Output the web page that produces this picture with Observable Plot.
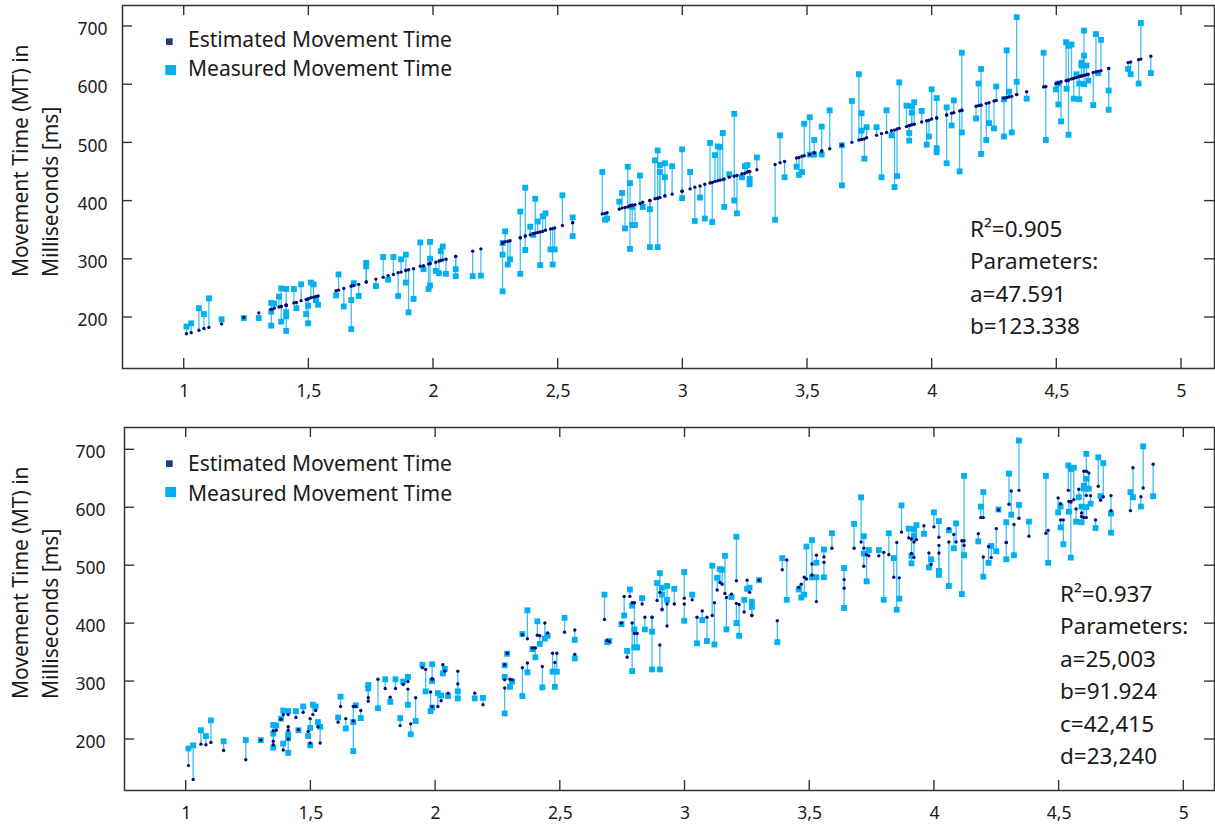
<!DOCTYPE html>
<html><head><meta charset="utf-8">
<script src="https://cdn.jsdelivr.net/npm/d3@7"></script>
<script src="https://cdn.jsdelivr.net/npm/@observablehq/plot@0.6"></script>
<style>
html,body{margin:0;padding:0;background:#fff;}
#c svg{display:block;}
</style></head><body><div id="c"></div>
<script>
// Index of difficulty (x) for each trial
const ids=[
1.009,1.028,1.059,1.079,1.099,1.150,1.239,1.299,1.349,1.349,
1.349,1.361,1.380,1.389,1.389,1.409,1.409,1.409,1.409,1.440,
1.450,1.469,1.489,1.497,1.497,1.508,1.519,1.528,1.537,1.609,
1.619,1.640,1.670,1.670,1.680,1.700,1.730,1.730,1.769,1.798,
1.818,1.839,1.858,1.870,1.889,1.889,1.900,1.920,1.947,1.960,
1.980,1.986,1.986,1.986,2.009,2.022,2.029,2.037,2.050,2.089,
2.089,2.157,2.190,2.277,2.277,2.277,2.287,2.298,2.307,2.348,
2.348,2.368,2.368,2.388,2.400,2.408,2.418,2.428,2.438,2.449,
2.469,2.478,2.486,2.517,2.558,2.558,2.677,2.688,2.696,2.745,
2.756,2.768,2.779,2.788,2.788,2.797,2.808,2.797,2.828,2.839,
2.868,2.868,2.888,2.899,2.899,2.908,2.908,2.928,2.928,2.957,
2.997,2.997,3.029,3.048,3.069,3.088,3.109,3.118,3.129,3.140,
3.149,3.160,3.166,3.186,3.206,3.206,3.217,3.237,3.249,3.259,
3.268,3.268,3.297,3.370,3.390,3.408,3.456,3.466,3.478,3.487,
3.509,3.509,3.527,3.527,3.557,3.557,3.589,3.638,3.638,3.678,
3.706,3.717,3.717,3.728,3.737,3.777,3.797,3.817,3.837,3.849,
3.859,3.868,3.897,3.908,3.908,3.918,3.918,3.928,3.958,3.978,
3.987,3.998,4.018,4.018,4.018,4.058,4.058,4.078,4.087,4.110,
4.119,4.119,4.176,4.186,4.196,4.196,4.217,4.228,4.248,4.257,
4.288,4.288,4.299,4.308,4.319,4.339,4.339,4.379,4.447,4.456,
4.496,4.506,4.506,4.517,4.537,4.539,4.547,4.547,4.559,4.568,
4.579,4.590,4.590,4.599,4.599,4.609,4.609,4.609,4.619,4.626,
4.646,4.657,4.666,4.677,4.708,4.708,4.786,4.796,4.828,4.837,
4.877];
// Measured movement time [ms]
const measured=[
184.5,190,216,206,233,197,199,199,225,186,
210,224,236,250,193,249,209,202,177,249,
216,257,206,190,220,260,257,230,222,238,
274,219,230,180,259,237,294,288,254,304,
265,304,237,300,308,260,209,232,329,283,
249,330,301,255,280,276,314,322,275,283,
271,271,272,245,328,308,348,291,300,382,
275,423,316,356,342,404,365,290,374,379,
317,291,317,410,372,340,450,368,370,399,
414,353,459,431,318,359,359,390,444,390,
386,321,470,487,321,462,450,465,441,460,
489,405,450,366,406,370,500,364,479,494,
493,517,390,446,550,401,379,441,460,462,
438,429,475,368,513,441,459,445,450,533,
544,480,505,480,528,480,556,427,496,572,
618,551,521,473,527,527,441,556,513,424,
443,604,564,517,504,563,552,570,555,497,
511,592,577,491,484,561,465,530,573,451,
655,518,542,602,627,481,505,534,525,597,
511,575,659,588,518,716,605,576,655,505,
592,602,566,537,673,593,667,514,669,576,
618,602,575,638,633,693,650,601,633,607,
565,687,620,677,590,557,627,618,602,706,
620];
// Estimated movement time, upper model [ms]
const estTop=[
172,174,178,181,183,189,200,208,214,214,
214,216,218,219,219,221,221,221,221,225,
226,229,231,232,232,234,235,236,237,246,
247,250,254,254,255,257,261,261,266,269,
272,274,277,278,281,281,282,284,288,289,
292,293,293,293,295,297,298,299,300,305,
305,314,318,328,328,328,330,331,332,337,
337,340,340,342,344,345,346,347,348,350,
352,353,354,358,363,363,378,379,380,386,
388,389,390,392,392,393,394,393,396,398,
401,401,404,405,405,406,406,409,409,412,
417,417,421,424,426,429,431,432,434,435,
436,437,438,441,443,443,444,447,448,450,
451,451,454,463,466,468,474,475,477,478,
480,480,483,483,486,486,490,496,496,501,
505,506,506,507,509,513,516,518,521,522,
524,525,528,530,530,531,531,532,536,538,
539,541,543,543,543,548,548,551,552,555,
556,556,563,564,565,565,568,569,572,573,
577,577,578,579,580,583,583,588,596,597,
602,603,603,605,607,607,608,608,610,611,
612,614,614,615,615,616,616,616,617,618,
621,622,623,624,628,628,638,639,643,644,
649];
// Estimated movement time, lower model [ms]
const estBottom=[
155,131,192,191,195,181,165,199,215,191,
197,216,235,243,182,243,216,222,201,238,
217,247,214,194,236,243,250,222,194,230,
257,236,257,232,257,250,272,266,304,288,
273,288,224,295,300,287,227,272,324,321,
282,304,305,257,257,267,329,318,280,318,
296,280,260,289,329,303,349,304,303,381,
324,374,332,358,358,380,379,326,401,384,
349,333,349,385,389,347,407,371,369,401,
447,342,447,436,401,383,383,436,434,411,
411,411,440,454,363,425,424,434,396,434,
444,434,441,411,422,411,414,436,458,471,
468,452,445,451,474,435,433,420,475,454,
414,414,475,405,493,510,463,468,480,477,
484,503,518,438,515,506,530,476,461,530,
541,530,499,519,517,517,523,519,480,540,
479,558,548,546,521,541,514,545,569,522,
502,567,549,535,522,564,541,554,541,543,
535,543,555,583,583,515,533,514,564,596,
540,540,606,629,571,630,582,551,556,561,
617,607,579,579,630,611,610,611,614,598,
632,591,585,663,583,663,621,583,660,621,
579,637,613,619,621,595,595,669,619,634,
675];

const xTicks=[1,1.5,2,2.5,3,3.5,4,4.5,5];
const yTicks=[200,300,400,500,600,700];
const legendLabels=["Estimated Movement Time","Measured Movement Time"];
const yTitle=["Movement Time (MT) in","Milliseconds [ms]"];
const statsTop=["R²=0.905","Parameters:","a=47.591","b=123.338"];
const statsBottom=["R²=0.937","Parameters:","a=25,003","b=91.924","c=42,415","d=23,240"];

const FONT='"Noto Sans", "Open Sans", sans-serif';
const C_MEAS="#00b0f0", C_LINE="#3fc0f2", C_EST="#0b0b78", C_LEG_EST="#1f3f7a", C_FRAME="#333";

function inward(len){
  return (index, scales, values, d) => {
    const g=d3.create("svg:g").attr("stroke",C_FRAME).attr("stroke-width",1.4);
    const t=d.marginTop, b=d.height-d.marginBottom, l=d.marginLeft, r=d.width-d.marginRight;
    xTicks.forEach(v=>{const x=scales.x(v);
      g.append("line").attr("x1",x).attr("x2",x).attr("y1",b).attr("y2",b-len);
      g.append("line").attr("x1",x).attr("x2",x).attr("y1",t).attr("y2",t+len);});
    yTicks.forEach(v=>{const y=scales.y(v);
      g.append("line").attr("x1",l).attr("x2",l+len).attr("y1",y).attr("y2",y);
      g.append("line").attr("x1",r).attr("x2",r-len).attr("y1",y).attr("y2",y);});
    return g.node();
  };
}

function decor(cfg){
  return (index, scales, values, d) => {
    const g=d3.create("svg:g").attr("font-family",FONT).attr("fill","#1a1a1a").attr("text-anchor","start");
    const t=d.marginTop;
    g.append("rect").attr("x",166).attr("y",t+33.3).attr("width",6.7).attr("height",6.7).attr("fill",C_LEG_EST);
    g.append("rect").attr("x",165.3).attr("y",t+60).attr("width",10.7).attr("height",10).attr("fill",C_MEAS);
    legendLabels.forEach((s,i)=>g.append("text").attr("text-anchor","start").attr("x",188).attr("y",t+cfg.legY+i*29.5)
      .attr("font-size",21).text(s));
    yTitle.forEach((s,i)=>g.append("text")
      .attr("transform",`translate(${28+i*29.5},${t+272}) rotate(-90)`)
      .attr("text-anchor","start").attr("font-size",21).text(s));
    cfg.stats.forEach((s,i)=>g.append("text").attr("text-anchor","start").attr("x",cfg.sx).attr("y",t+cfg.sy+i*32.5)
      .attr("font-size",22.5).text(s));
    return g.node();
  };
}

function chart(cfg){
  const rows=ids.map((id,i)=>({id, mt:measured[i], est:cfg.est[i]}));
  const fmt=v=>String(v).replace(".",",");
  return Plot.plot({
    width:1215, height:cfg.height,
    marginTop:cfg.mt, marginBottom:cfg.mb, marginLeft:cfg.ml, marginRight:1,
    style:{fontFamily:FONT, color:"#1a1a1a", background:"#fff", overflow:"visible"},
    x:{domain:cfg.xd},
    y:{domain:cfg.yd},
    marks:[
      Plot.ruleX(rows,{x:"id", y1:"mt", y2:"est", stroke:C_LINE, strokeWidth:1.3}),
      Plot.dot(rows,{x:"id", y:"mt", symbol:"square", r:3.3, fill:C_MEAS}),
      Plot.dot(rows,{x:"id", y:"est", r:1.7, fill:C_EST}),
      Plot.frame({stroke:C_FRAME, strokeWidth:1.5}),
      Plot.axisX({ticks:xTicks, tickSize:0, tickPadding:16, tickFormat:fmt, fontSize:17.5, label:null}),
      Plot.axisY({ticks:yTicks, tickSize:0, tickPadding:cfg.yPad, fontSize:17.5, dy:3, label:null}),
      inward(10),
      decor(cfg)
    ]
  });
}

const root=document.getElementById("c");
root.appendChild(chart({est:estTop, height:410, mt:5, mb:42, ml:122,
  xd:[0.7525,5.1324], yd:[112.4,736.1], yPad:15, legY:41.7,
  stats:statsTop, sx:970, sy:231.7}));
root.appendChild(chart({est:estBottom, height:415, mt:17, mb:35, ml:124,
  xd:[0.7526,5.123], yd:[112,738.5], yPad:19, legY:44,
  stats:statsBottom, sx:1060, sy:174.7}));
</script></body></html>
